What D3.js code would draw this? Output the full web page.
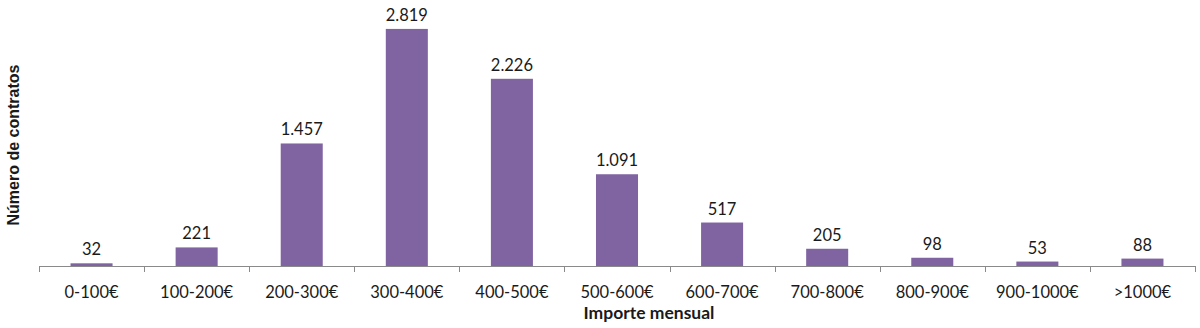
<!DOCTYPE html>
<html><head><meta charset="utf-8">
<script src="https://cdn.jsdelivr.net/npm/d3@7"></script>
<style>body{margin:0;background:#fff;} text{font-family:Lato, "Open Sans", sans-serif;}</style>
</head><body>
<svg id="c" width="1200" height="328"></svg>
<script>
const categories = ["0-100€","100-200€","200-300€","300-400€","400-500€","500-600€","600-700€","700-800€","800-900€","900-1000€",">1000€"];
const values = [32,221,1457,2819,2226,1091,517,205,98,53,88];
const valueLabels = ["32","221","1.457","2.819","2.226","1.091","517","205","98","53","88"];

const svg = d3.select("#c");
const x = d3.scaleBand().domain(categories).range([39,1195]).padding(0);
const y = d3.scaleLinear().domain([0,3000]).range([266,13.7]);
const bw = x.bandwidth()*0.4;

svg.selectAll("rect.bar").data(values).join("rect")
  .attr("x",(d,i)=>x(categories[i])+x.bandwidth()/2-bw/2)
  .attr("y",d=>y(d)).attr("width",bw).attr("height",d=>y(0)-y(d))
  .attr("fill","#8064A2");

svg.selectAll("text.val").data(values).join("text")
  .attr("x",(d,i)=>x(categories[i])+x.bandwidth()/2)
  .attr("y",d=>y(d)-8).attr("text-anchor","middle")
  .attr("font-size","16.5px").attr("fill","#1a1a1a")
  .text((d,i)=>valueLabels[i]);

// axis
const ax = svg.append("g");
ax.append("line").attr("x1",39).attr("x2",1195).attr("y1",266.5).attr("y2",266.5).attr("stroke","#8a8a8a");
const ticks = categories.map(c=>x(c)).concat([x.range()[1]]);
ax.selectAll("line.t").data(ticks).join("line")
  .attr("x1",d=>Math.round(d)+0.5).attr("x2",d=>Math.round(d)+0.5).attr("y1",266).attr("y2",272).attr("stroke","#8a8a8a");
ax.selectAll("text.cat").data(categories).join("text")
  .attr("x",d=>x(d)+x.bandwidth()/2).attr("y",298).attr("text-anchor","middle")
  .attr("font-size","16.5px").attr("fill","#1a1a1a").text(d=>d);

svg.append("text").attr("x",649).attr("y",319).attr("text-anchor","middle")
  .attr("font-size","17.5px").attr("font-weight","bold").attr("fill","#1a1a1a").text("Importe mensual");
svg.append("text").attr("transform","translate(19,145) rotate(-90)").attr("text-anchor","middle")
  .style("font-family","'Liberation Sans', Arial, sans-serif")
  .attr("font-size","16px").attr("font-weight","bold").attr("fill","#1a1a1a").text("Número de contratos");
</script>
</body></html>
